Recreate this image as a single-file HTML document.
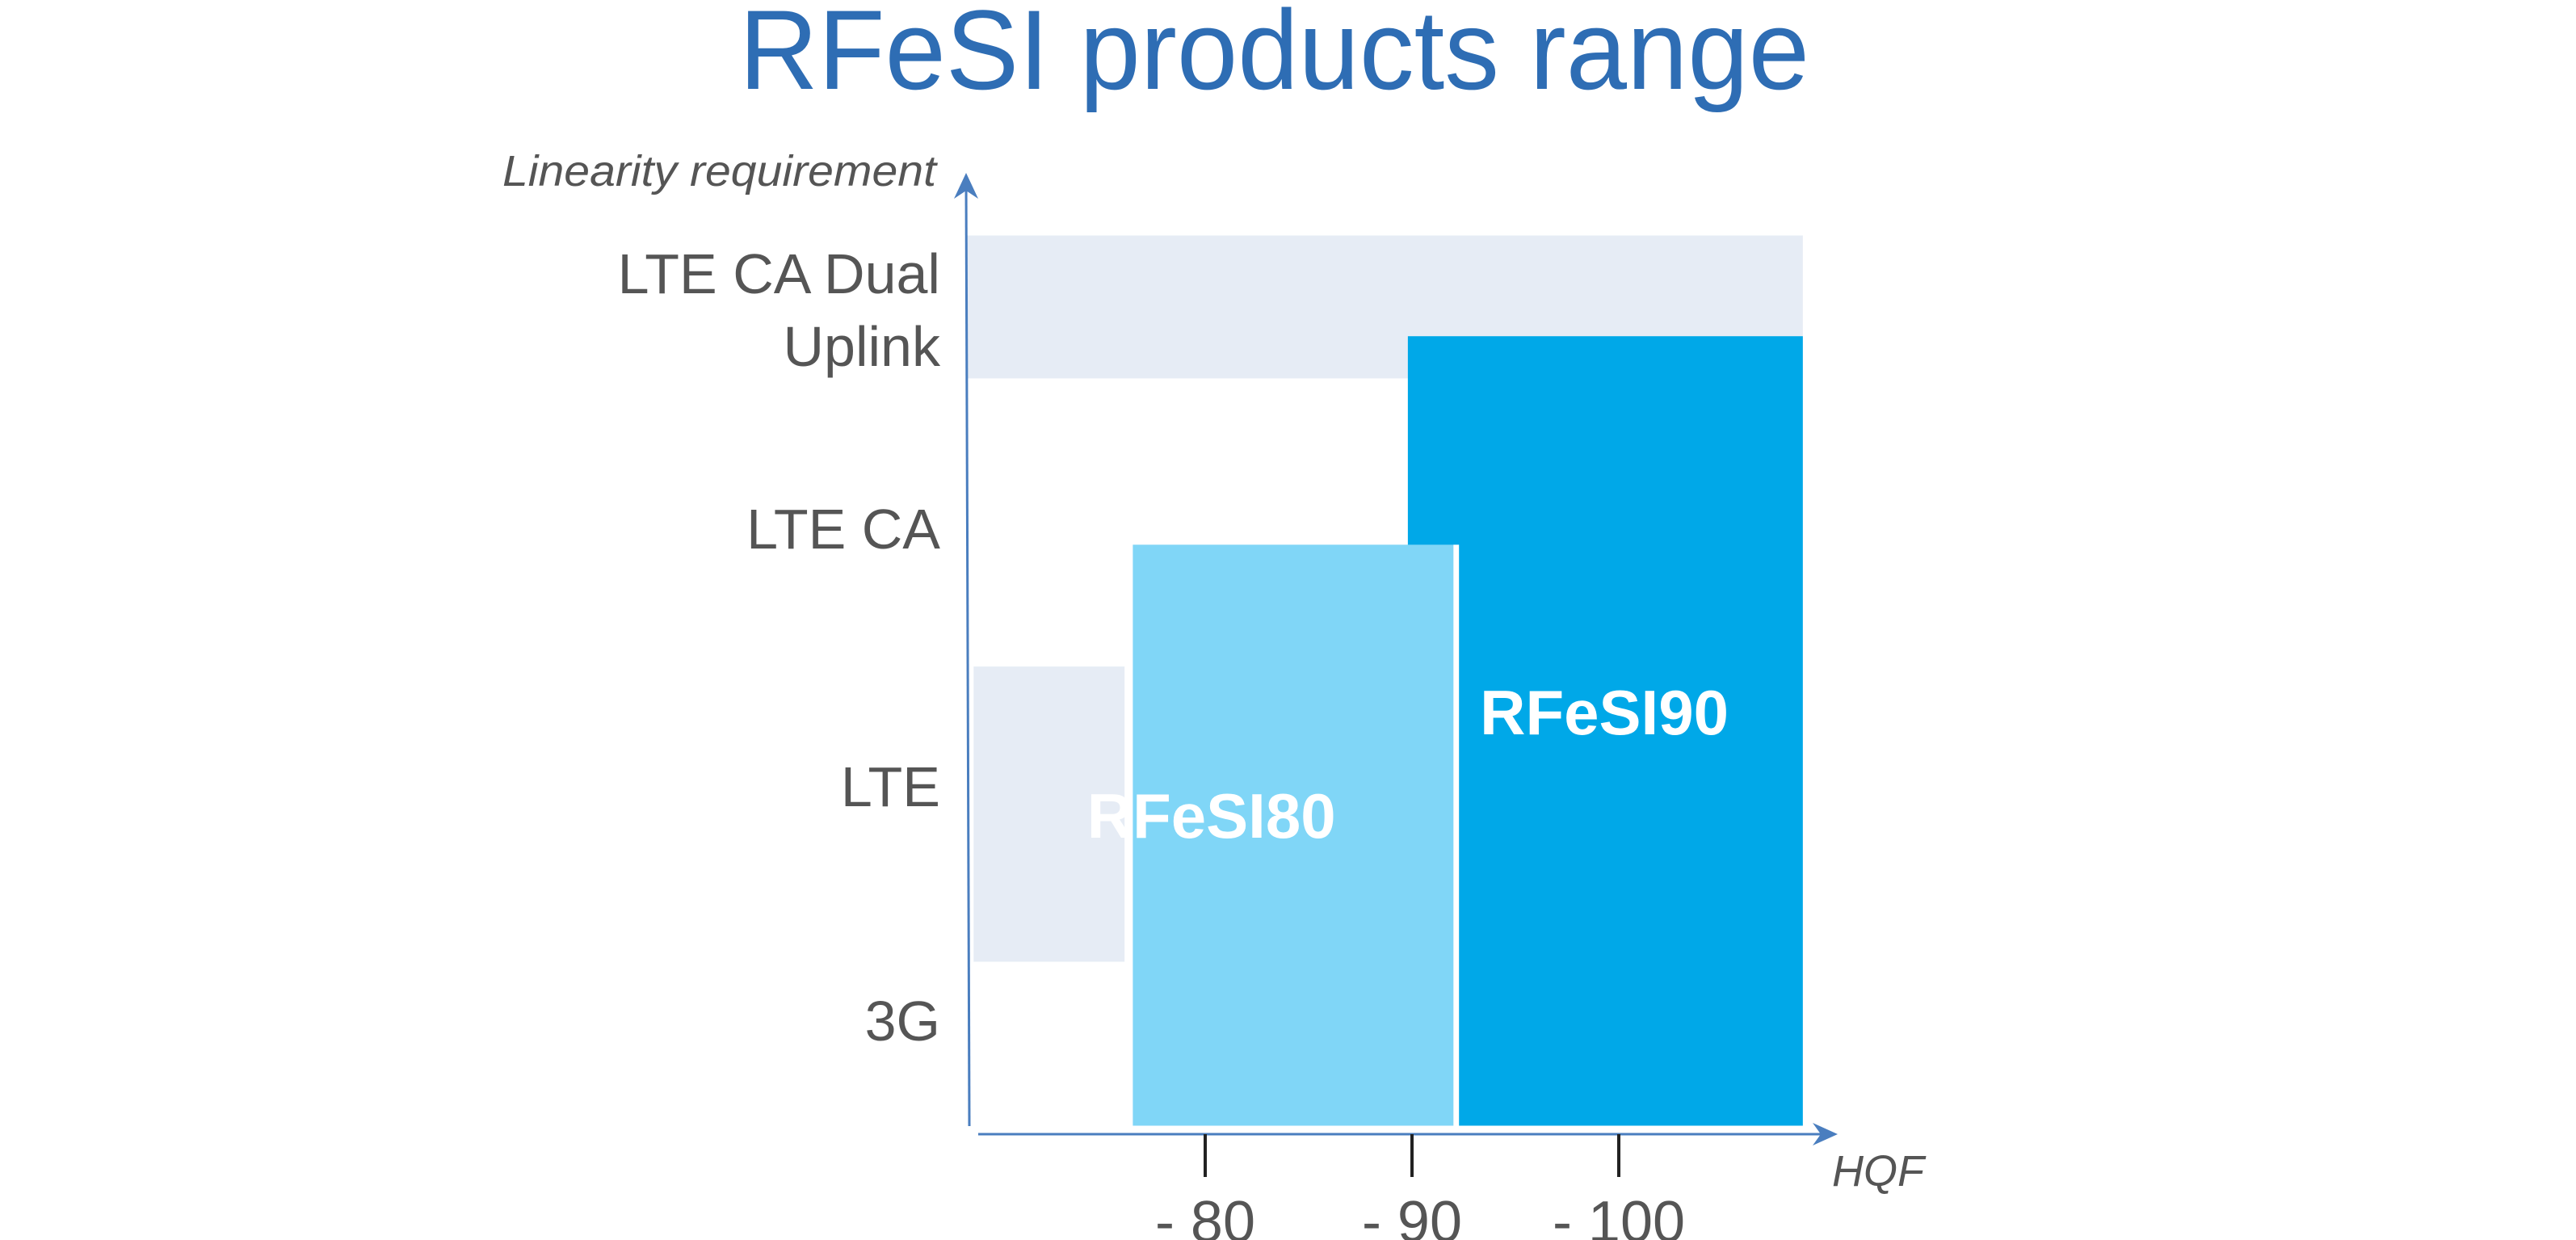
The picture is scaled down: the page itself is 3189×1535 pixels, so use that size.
<!DOCTYPE html>
<html><head><meta charset="utf-8"><style>
html,body{margin:0;padding:0;background:#fff;}
svg{display:block;}
text{font-family:"Liberation Sans",sans-serif;}
</style></head><body>
<svg id="chart" width="3189" height="1535" viewBox="0 0 3189 1535" xmlns="http://www.w3.org/2000/svg">
<text x="915" y="110" font-size="140" fill="#2e6db4" textLength="1325" lengthAdjust="spacingAndGlyphs">RFeSI products range</text>
<text x="622" y="230" font-size="54" font-style="italic" fill="#555" textLength="537" lengthAdjust="spacingAndGlyphs">Linearity requirement</text>
<text x="2268" y="1468" font-size="54" font-style="italic" fill="#555">HQF</text>
<g id="marks"></g>
<g id="axes"></g>
</svg>
<script>
const categories = ["3G", "LTE", "LTE CA", "LTE CA Dual|Uplink"];
const categoryLevels = [0, 1, 2.1, 3.1];
const xTicks = [-80, -90, -100];
const xTickLabels = ["- 80", "- 90", "- 100"];
const bandNames = ["dual-uplink-band", "lte-band"];
const bandX0 = [-68.5, -68.8];
const bandX1 = [-108.9, -76.1];
const bandY0 = [2.74, 0.25];
const bandY1 = [3.35, 1.51];
const productNames = ["RFeSI90", "RFeSI80"];
const productX0 = [-89.8, -76.5];
const productX1 = [-108.9, -92.0];
const productTop = [2.92, 2.03];
const productBottom = -0.45;

const X = v => 1492 + (v - (-80)) * -25.6;
const Y = v => 1263 - v * 290;
const NS = "http://www.w3.org/2000/svg";
const marks = document.getElementById('marks');
const axes = document.getElementById('axes');
function mk(tag, attrs, parent){const e=document.createElementNS(NS,tag);for(const k in attrs)e.setAttribute(k,attrs[k]);parent.appendChild(e);return e;}

bandNames.forEach((n,i)=>{
  const r = mk('rect',{x:X(bandX0[i]),y:Y(bandY1[i]),width:X(bandX1[i])-X(bandX0[i]),height:Y(bandY0[i])-Y(bandY1[i]),fill:'#e6ecf5'},marks);
  
  
});
const colors = ["#00a8e8", "#80d6f7"];
productNames.forEach((n,i)=>{
  const r = mk('rect',{x:X(productX0[i]),y:Y(productTop[i]),width:X(productX1[i])-X(productX0[i]),height:Y(productBottom)-Y(productTop[i]),fill:colors[i]},marks);
  
  
  if(i===1){
    const g = mk('rect',{x:X(productX1[i]),y:Y(productTop[i]),width:7,height:Y(productBottom)-Y(productTop[i]),fill:'#ffffff'},marks);
    
    
  }
});
// product labels
const lblPos = [[ -99.3, 1.22 ], [ -80.3, 0.78 ]];
productNames.forEach((n,i)=>{
  const t = mk('text',{x:X(lblPos[i][0]),y:Y(lblPos[i][1]),'font-size':78,'font-weight':'bold',fill:'#fff','text-anchor':'middle'},marks);
  t.textContent = n;
  
  
});
// axes
const ya = mk('path',{d:'M1200 1394 L1196 222',stroke:'#4a7ebf','stroke-width':3,fill:'none'},axes);


const yarr = mk('path',{d:'M1196 214 L1181 246 L1196 236 L1211 246 Z',fill:'#4a7ebf'},axes);


const xa = mk('path',{d:'M1211 1404 L2262 1404',stroke:'#4a7ebf','stroke-width':3,fill:'none'},axes);


const xarr = mk('path',{d:'M2275 1404 L2244 1390 L2254 1404 L2244 1418 Z',fill:'#4a7ebf'},axes);


xTicks.forEach((v,i)=>{
  const l = mk('line',{x1:X(v),x2:X(v),y1:1404,y2:1457,stroke:'#222','stroke-width':4},axes);
  
  
  const t = mk('text',{x:X(v),y:1537,'font-size':72,fill:'#555','text-anchor':'middle'},axes);
  t.textContent = xTickLabels[i];
  
  
});
categories.forEach((c,i)=>{
  const parts = c.split('|');
  parts.forEach((p,j)=>{
    const base = parts.length>1 ? 363 + j*90 : Y(categoryLevels[i]) + 25;
    const t = mk('text',{x:1164,y:base,'font-size':70,fill:'#555','text-anchor':'end'},axes);
    t.textContent = p;
    
    
  });
});
</script>
</body></html>
